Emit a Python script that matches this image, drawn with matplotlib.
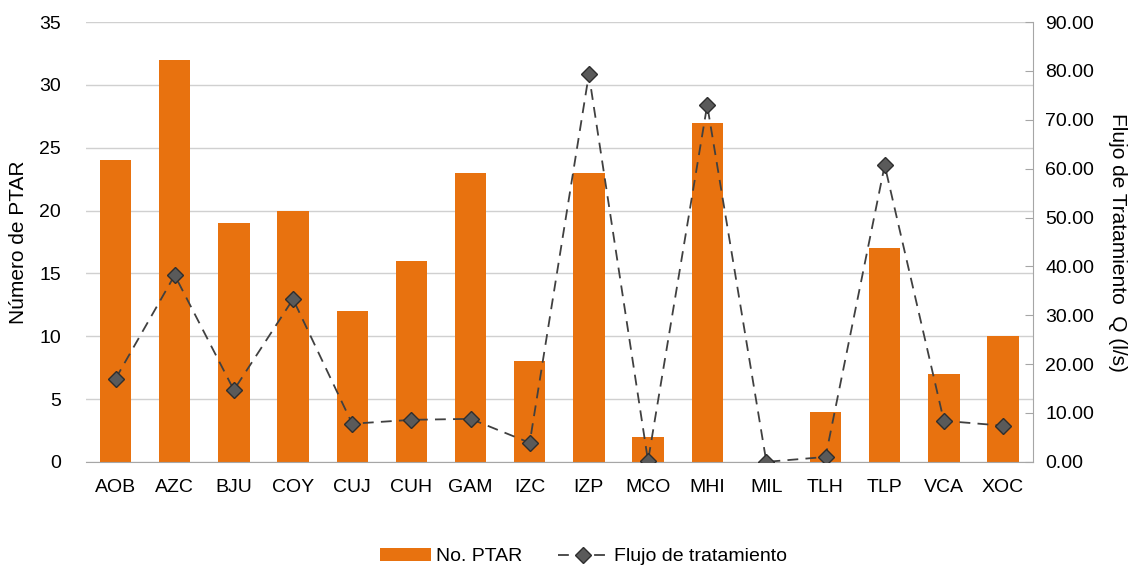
import matplotlib
matplotlib.use('Agg')
import matplotlib.pyplot as plt
import numpy as np
from matplotlib.ticker import FormatStrFormatter

plt.rcParams['font.family'] = ['Liberation Sans', 'DejaVu Sans']

# Datos
delegaciones = ['AOB', 'AZC', 'BJU', 'COY', 'CUJ', 'CUH', 'GAM', 'IZC',
                'IZP', 'MCO', 'MHI', 'MIL', 'TLH', 'TLP', 'VCA', 'XOC']
num_ptar = [24, 32, 19, 20, 12, 16, 23, 8, 23, 2, 27, 0, 4, 17, 7, 10]
flujo = [17.0, 38.2, 14.7, 33.3, 7.8, 8.6, 8.8, 3.9, 79.3, 0.2, 73.0, 0.0,
         1.0, 60.7, 8.4, 7.4]

naranja = '#E8720F'
gris_rejilla = '#D0D0D0'

fig = plt.figure(figsize=(11.31, 5.66), dpi=100)
ax = fig.add_axes([0.076, 0.184, 0.837, 0.777])
x = np.arange(len(delegaciones))

barras = ax.bar(x, num_ptar, width=0.53, color=naranja, label='No. PTAR', zorder=2)
ax.set_xlim(-0.5, len(delegaciones) - 0.5)
ax.set_ylim(0, 35)
ax.set_yticks(range(0, 36, 5))
ax.set_xticks(x)
ax.set_xticklabels(delegaciones)
ax.grid(axis='y', color=gris_rejilla, linewidth=1, zorder=0)
ax.set_axisbelow(True)
ax.tick_params(axis='y', length=0, labelsize=14, pad=18)
ax.tick_params(axis='x', length=0, labelsize=14, pad=12)
for s in ['top', 'left', 'right']:
    ax.spines[s].set_visible(False)
ax.spines['bottom'].set_color('#A6A6A6')
ax.set_ylabel('Número de PTAR', fontsize=15, labelpad=8)

ax2 = ax.twinx()
linea, = ax2.plot(x, flujo, linestyle=(0, (6, 4)), color='#404040', linewidth=1.3,
                  marker='D', markersize=8, markerfacecolor='#5A5A5A',
                  markeredgecolor='#2E2E2E', markeredgewidth=1,
                  label='Flujo de tratamiento', zorder=3)
ax2.set_ylim(0, 90)
ax2.set_yticks(range(0, 91, 10))
ax2.yaxis.set_major_formatter(FormatStrFormatter('%.2f'))
ax2.tick_params(axis='y', direction='in', length=6, color='#A6A6A6', labelsize=14, pad=9)
for s in ['top', 'left', 'bottom']:
    ax2.spines[s].set_visible(False)
ax2.spines['right'].set_color('#A6A6A6')
ax2.set_ylabel('Flujo de Tratamiento  Q (l/s)', fontsize=15, rotation=-90, labelpad=24)

fig.legend(handles=[barras, linea], labels=['No. PTAR', 'Flujo de tratamiento'],
           loc='lower center', bbox_to_anchor=(0.516, -0.03), ncol=2, frameon=False,
           fontsize=14, handlelength=2.6, handletextpad=0.3, columnspacing=1.8)

plt.savefig('out.png', dpi=100)
